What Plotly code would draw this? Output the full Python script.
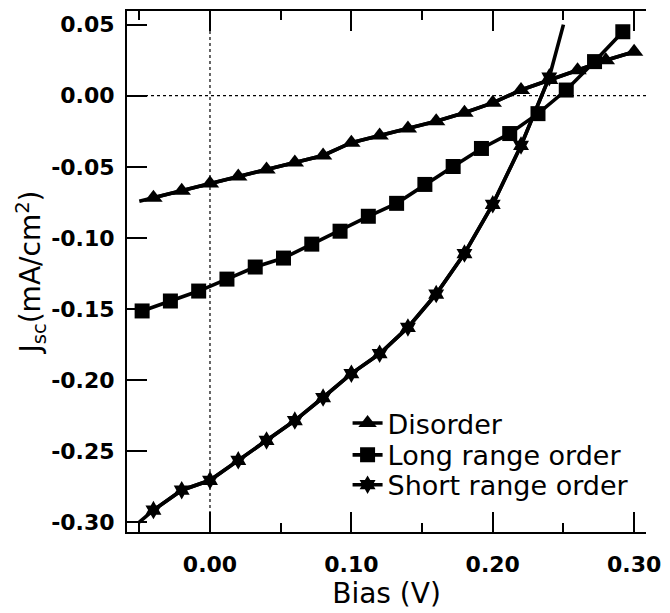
import plotly.graph_objects as go

# ---- data ----
bias_dis = [-0.05, -0.04, -0.02, 0.00, 0.02, 0.04, 0.06, 0.08, 0.10, 0.12, 0.14,
            0.16, 0.18, 0.20, 0.22, 0.24, 0.26, 0.28, 0.30]
jsc_dis = [-0.0743, -0.0718, -0.0669, -0.0617, -0.0568, -0.0519, -0.0470, -0.0420,
           -0.0330, -0.0280, -0.0230, -0.0180, -0.0120, -0.0050, 0.0040, 0.0110,
           0.0180, 0.0250, 0.0310]

bias_lro = [-0.048, -0.028, -0.008, 0.012, 0.032, 0.052, 0.072, 0.092, 0.112,
            0.132, 0.152, 0.172, 0.192, 0.212, 0.232, 0.252, 0.272, 0.292]
jsc_lro = [-0.1514, -0.1444, -0.1374, -0.1290, -0.1205, -0.1142, -0.1044, -0.0953,
           -0.0848, -0.0757, -0.0624, -0.0498, -0.0371, -0.0266, -0.0126, 0.0040,
           0.0240, 0.0450]

bias_sro = [-0.05, -0.04, -0.02, 0.00, 0.02, 0.04, 0.06, 0.08, 0.10, 0.12, 0.14,
            0.16, 0.18, 0.20, 0.22, 0.24, 0.25]
jsc_sro = [-0.3000, -0.2915, -0.2775, -0.2705, -0.2565, -0.2425, -0.2285, -0.2123,
           -0.1955, -0.1815, -0.1630, -0.1395, -0.1110, -0.0764, -0.0350, 0.0130,
           0.0500]

names = ["Disorder", "Long range order", "Short range order"]

y_tickvals = [0.05, 0.00, -0.05, -0.10, -0.15, -0.20, -0.25, -0.30]
y_ticktext = ["0.05", "0.00", "-0.05", "-0.10", "-0.15", "-0.20", "-0.25", "-0.30"]
x_tickvals = [0.00, 0.10, 0.20, 0.30]
x_ticktext = ["0.00", "0.10", "0.20", "0.30"]
x_minorvals = [-0.05, 0.05, 0.15, 0.25]

LW = 3.6
fig = go.Figure()
# Disorder: full line (first point has no symbol) + symbols
fig.add_trace(go.Scatter(x=bias_dis, y=jsc_dis, mode="lines", showlegend=False,
                         line=dict(color="black", width=LW), hoverinfo="skip"))
fig.add_trace(go.Scatter(x=bias_dis[1:], y=jsc_dis[1:], name=names[0], mode="lines+markers",
                         line=dict(color="black", width=LW), legend="legend",
                         marker=dict(symbol="triangle-up", size=16, color="black")))
# Long range order
fig.add_trace(go.Scatter(x=bias_lro, y=jsc_lro, name=names[1], mode="lines+markers",
                         line=dict(color="black", width=LW), legend="legend2",
                         marker=dict(symbol="square", size=15, color="black")))
# Short range order: full line (end points have no symbol) + symbols
fig.add_trace(go.Scatter(x=bias_sro, y=jsc_sro, mode="lines", showlegend=False,
                         line=dict(color="black", width=LW), hoverinfo="skip"))
fig.add_trace(go.Scatter(x=bias_sro[1:-1], y=jsc_sro[1:-1], name=names[2], mode="lines+markers",
                         line=dict(color="black", width=LW), legend="legend3",
                         marker=dict(symbol="hexagram", size=14, color="black")))

# dotted zero reference lines
fig.add_shape(type="line", xref="x", yref="y domain", x0=0, x1=0, y0=0, y1=1,
              line=dict(color="black", width=1.2, dash="dot"), layer="below")
fig.add_shape(type="line", xref="x domain", yref="y", x0=0, x1=1, y0=0, y1=0,
              line=dict(color="black", width=1.2, dash="dot"), layer="below")

tick_font = dict(family="DejaVu Sans", size=22, color="black", weight="bold")
title_font = dict(family="DejaVu Sans", size=28, color="black")

fig.update_xaxes(showline=True, linecolor="black", linewidth=2, mirror="ticks",
                 ticks="inside", tickcolor="black", tickwidth=2, showgrid=False,
                 zeroline=False, range=[-0.0587, 0.3084], tickmode="array",
                 tickvals=x_tickvals, ticktext=x_ticktext, ticklen=20,
                 ticklabelstandoff=12,
                 minor=dict(tickmode="array", tickvals=x_minorvals, ticks="inside",
                            ticklen=9, tickwidth=2, tickcolor="black"),
                 tickfont=tick_font,
                 title=dict(text="Bias (V)", font=title_font, standoff=2))

fig.update_layout(
    yaxis=dict(showline=True, linecolor="black", linewidth=2, mirror=False,
               ticks="inside", tickcolor="black", tickwidth=2, showgrid=False,
               zeroline=False, range=[-0.3069, 0.0596], tickmode="array",
               tickvals=y_tickvals, ticktext=y_ticktext, ticklen=20,
               ticklabelstandoff=6, tickfont=tick_font,
               title=dict(text="J<sub>sc</sub>(mA/cm<sup>2</sup>)", font=title_font,
                          standoff=0)),
    yaxis2=dict(overlaying="y", side="right", anchor="x", showline=True,
                linecolor="black", linewidth=2, ticks="inside", tickcolor="black",
                tickwidth=2, ticklen=12, showgrid=False, zeroline=False,
                range=[-0.3069, 0.0596], tickmode="array", tickvals=y_tickvals,
                showticklabels=False),
)

leg_font = dict(family="DejaVu Sans", size=27, color="black")
leg_common = dict(x=0.425, xanchor="left", yanchor="middle",
                  bgcolor="rgba(0,0,0,0)", borderwidth=0, font=leg_font)

fig.update_layout(width=670, height=613, margin=dict(l=127, r=18, t=9, b=81),
                  paper_bgcolor="white", plot_bgcolor="white",
                  showlegend=True,
                  legend=dict(y=0.2084, **leg_common),
                  legend2=dict(y=0.1472, **leg_common),
                  legend3=dict(y=0.0899, **leg_common))

fig.write_html("out.html")
